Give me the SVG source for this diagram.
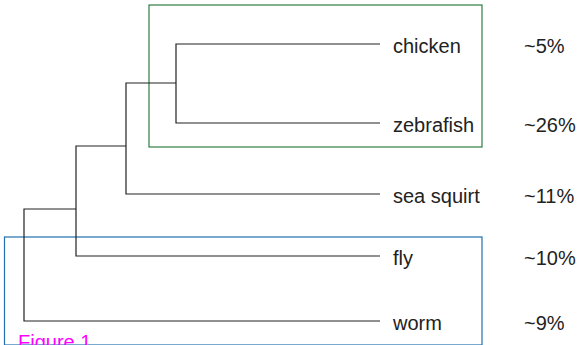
<svg xmlns="http://www.w3.org/2000/svg" width="579" height="345" viewBox="0 0 579 345">
<style>
.t{font-family:"Liberation Sans",Arial,sans-serif;font-size:20px;fill:#222}
.e{stroke:#222;stroke-width:1.2;fill:none}
</style>
<rect width="579" height="345" fill="#fff"/>
<g id="group-vertebrates"><rect x="149" y="5" width="333" height="142" fill="none" stroke="#2f7d42" stroke-width="1.2"/></g>
<g id="group-invertebrates"><rect x="4.5" y="237" width="477.5" height="108" fill="none" stroke="#2270b0" stroke-width="1.2"/></g>
<g id="connectors">
<path class="e" d="M380,44H176V123H380"/>
<path class="e" d="M176,83H126V194H380"/>
<path class="e" d="M126,146H76V256H380"/>
<path class="e" d="M76,209H24V321H380"/>
</g>
<g id="chicken"><text class="t" x="393" y="52.5">chicken</text><text class="t" x="524" y="52.5">~5%</text></g>
<g id="zebrafish"><text class="t" x="393" y="131.5">zebrafish</text><text class="t" x="524" y="131.5">~26%</text></g>
<g id="sea-squirt"><text class="t" x="393" y="202.5">sea squirt</text><text class="t" x="524" y="202.5">~11%</text></g>
<g id="fly"><text class="t" x="393" y="264.5">fly</text><text class="t" x="524" y="264.5">~10%</text></g>
<g id="worm"><text class="t" x="393" y="329.5">worm</text><text class="t" x="524" y="329.5">~9%</text></g>
<g id="caption"><text class="t" x="18" y="349" style="fill:#ff00ff">Figure 1</text></g>
</svg>
